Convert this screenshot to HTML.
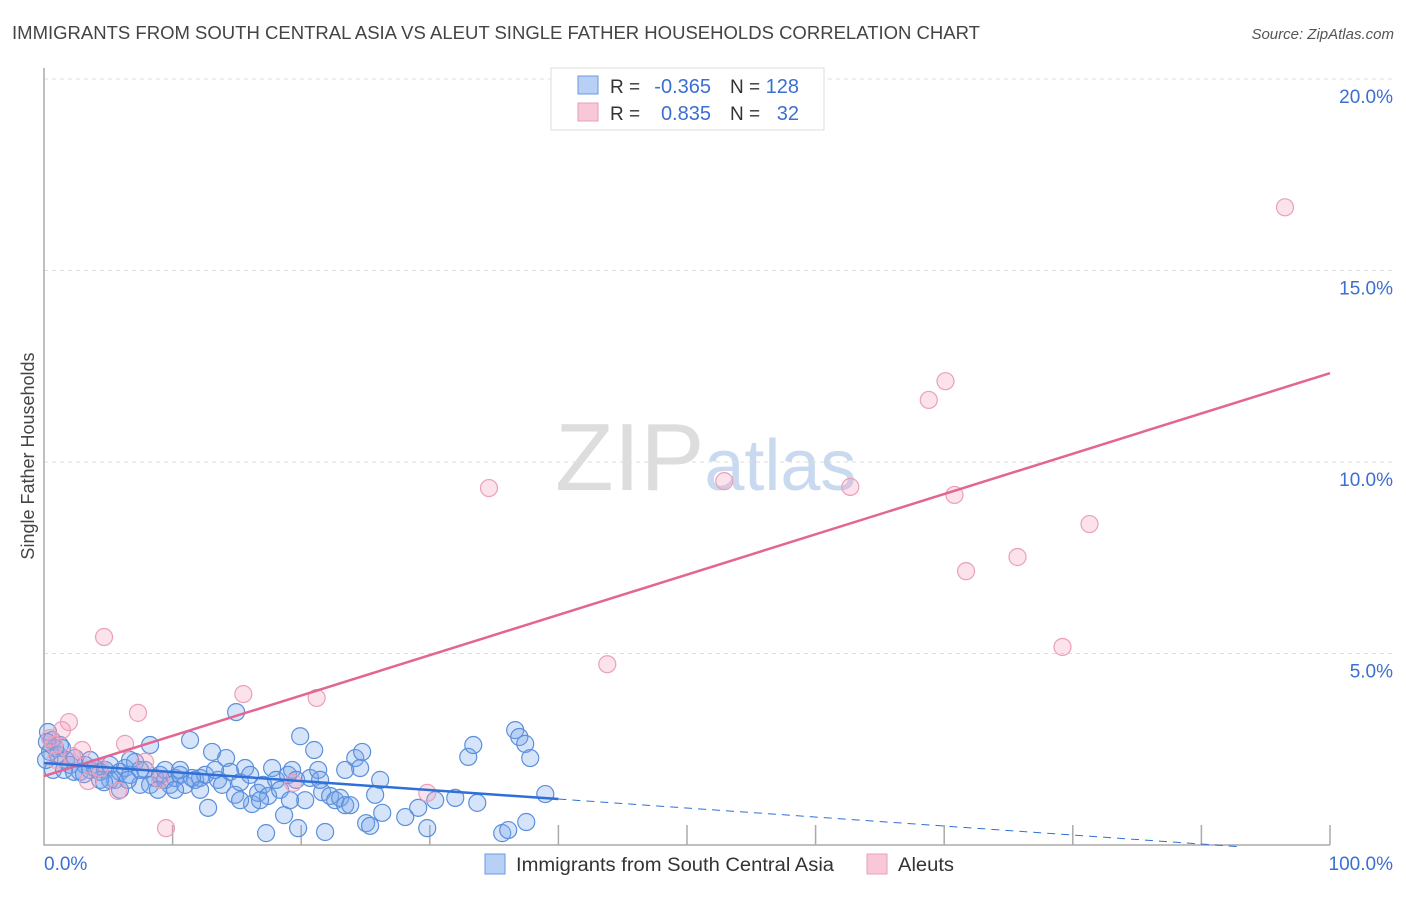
<!DOCTYPE html>
<html><head><meta charset="utf-8"><style>
body{margin:0;background:#fff;font-family:"Liberation Sans",sans-serif}
svg text{font-family:"Liberation Sans",sans-serif}
</style></head><body>
<svg id="chart" width="1406" height="892" viewBox="0 0 1406 892" xmlns="http://www.w3.org/2000/svg">
<text x="12" y="39" font-size="18" fill="#444" textLength="968" lengthAdjust="spacingAndGlyphs">IMMIGRANTS FROM SOUTH CENTRAL ASIA VS ALEUT SINGLE FATHER HOUSEHOLDS CORRELATION CHART</text>
<text x="1394" y="39" font-size="15" fill="#555" text-anchor="end" font-style="italic">Source: ZipAtlas.com</text>
<text x="555" y="490" font-size="96" fill="#ddd" font-family="Liberation Serif"><tspan>ZIP</tspan><tspan fill="#c9daf0" font-family="Liberation Sans" font-size="72">atlas</tspan></text>
<g id="grid"></g>
<g id="axes"></g>
<g id="points"></g>
<g id="lines"></g>
<text transform="translate(34,456) rotate(-90)" font-size="18" fill="#444" text-anchor="middle">Single Father Households</text>
<g>
<rect x="551" y="68" width="273" height="62" fill="#fff" stroke="#ddd"/>
<rect x="578" y="76" width="20" height="18" fill="#b8d0f5" stroke="#6a9ae0"/>
<rect x="578" y="103" width="20" height="18" fill="#f9c8d7" stroke="#e8a0b8"/>
<text x="610" y="93" font-size="19" fill="#333">R =</text>
<text x="711" y="93" font-size="20" fill="#3b6fd1" text-anchor="end">-0.365</text>
<text x="730" y="93" font-size="19" fill="#333">N =</text>
<text x="799" y="93" font-size="20" fill="#3b6fd1" text-anchor="end">128</text>
<text x="610" y="120" font-size="19" fill="#333">R =</text>
<text x="711" y="120" font-size="20" fill="#3b6fd1" text-anchor="end">0.835</text>
<text x="730" y="120" font-size="19" fill="#333">N =</text>
<text x="799" y="120" font-size="20" fill="#3b6fd1" text-anchor="end">32</text>
</g>
<g>
<rect x="485" y="854" width="20" height="20" fill="#b8d0f5" stroke="#6a9ae0"/>
<text x="516" y="871" font-size="19" fill="#333" textLength="318" lengthAdjust="spacingAndGlyphs">Immigrants from South Central Asia</text>
<rect x="867" y="854" width="20" height="20" fill="#f9c8d7" stroke="#e8a0b8"/>
<text x="898" y="871" font-size="19" fill="#333" textLength="56" lengthAdjust="spacingAndGlyphs">Aleuts</text>
</g>
</svg>
<script>
const yTicks=[5,10,15,20];
const yTickLabels=["5.0%","10.0%","15.0%","20.0%"];
const xTicks=[10,20,30,40,50,60,70,80,90,100];
const blueX=[0.31,0.62,0.86,0.47,1.09,1.40,1.71,2.02,2.41,2.80,3.19,3.58,3.97,4.36,4.75,5.13,5.52,5.91,6.30,6.69,7.08,7.47,7.86,8.25,8.64,9.02,9.41,9.80,10.19,10.58,10.97,11.36,11.75,12.14,12.53,12.76,13.07,13.54,13.85,14.16,14.47,14.86,15.25,15.64,16.03,16.18,16.65,17.04,17.27,17.43,17.74,18.05,18.36,18.67,18.98,19.29,19.61,19.76,19.92,20.31,20.69,21.01,21.32,21.63,21.86,22.25,22.64,23.03,23.42,23.81,24.20,24.58,24.74,25.05,25.36,25.75,26.14,26.30,28.09,29.10,29.80,30.42,31.98,32.99,33.38,33.69,35.63,36.10,36.64,36.96,37.42,37.50,37.81,38.98,14.94,11.51,8.25,6.69,1.24,0.23,0.70,5.13,5.91,9.41,10.19,12.14,13.30,15.25,16.80,19.13,21.47,23.42,3.58,4.36,7.47,10.58,0.16,1.56,2.33,3.11,4.67,6.53,8.86];
const blueY=[2.95,2.74,2.53,2.43,2.35,2.53,2.22,2.09,2.27,1.91,2.09,1.96,2.01,1.91,1.96,2.09,1.70,1.91,2.01,1.83,2.17,1.57,1.96,2.61,1.75,1.83,1.70,1.57,1.75,1.83,1.57,2.74,1.70,1.75,1.83,0.97,2.43,1.70,1.57,2.27,1.91,1.31,1.64,2.01,1.83,1.07,1.36,1.57,0.31,1.28,2.01,1.70,1.44,0.78,1.83,1.96,1.70,0.44,2.84,1.17,1.75,2.48,1.96,1.38,0.34,1.28,1.17,1.23,1.04,1.04,2.27,2.01,2.43,0.57,0.50,1.31,1.70,0.84,0.73,0.97,0.44,1.17,1.23,2.30,2.61,1.10,0.31,0.39,3.00,2.82,2.64,0.60,2.27,1.33,3.47,1.75,1.57,2.22,2.61,2.69,1.96,1.70,1.44,1.96,1.44,1.44,1.96,1.17,1.17,1.17,1.70,1.96,2.22,1.70,1.96,1.96,2.22,1.96,1.91,1.85,1.64,1.70,1.44];
const pinkX=[4.67,34.6,52.9,62.7,68.8,70.1,70.8,71.7,75.7,81.3,79.2,96.5,43.8,15.5,21.2,7.31,1.94,1.40,6.30,2.96,0.78,3.42,5.76,9.49,19.37,29.80,7.86,2.18,0.47,0.93,4.36,9.02];
const pinkY=[5.43,9.32,9.50,9.35,11.62,12.11,9.14,7.15,7.52,8.38,5.17,16.65,4.72,3.94,3.84,3.45,3.21,3.00,2.64,2.48,2.61,1.67,1.41,0.44,1.62,1.36,2.17,2.32,2.79,2.22,2.01,1.70];
const pinkFit=[1.8,12.32];
const blueFit=[2.14,-0.21];
const blueSolidEnd=40, blueDashEnd=93;

const NS="http://www.w3.org/2000/svg";
const X=v=>44+v*12.86, Y=v=>845-v*38.3;
function mk(t,a,p){const e=document.createElementNS(NS,t);for(const k in a)e.setAttribute(k,a[k]);p.appendChild(e);return e;}
const grid=document.getElementById('grid'),axes=document.getElementById('axes'),pts=document.getElementById('points'),lines=document.getElementById('lines');
yTicks.forEach((t,i)=>{
 const l=mk('line',{x1:44,x2:1394,y1:Y(t),y2:Y(t),stroke:'#ddd','stroke-dasharray':'4,4'},grid);
 
 
 const tx=mk('text',{x:1393,y:Y(t)+24,'font-size':19,fill:'#3b6fd1','text-anchor':'end'},axes);
 tx.textContent=yTickLabels[i];
 
 
});
const ax=mk('path',{d:'M44 68 V845 H1330',fill:'none',stroke:'#aaa','stroke-width':1.5},axes);


xTicks.forEach(t=>{const l=mk('line',{x1:X(t),x2:X(t),y1:845,y2:825,stroke:'#aaa','stroke-width':1.5},axes);
 
 });
const x0=mk('text',{x:44,y:870,'font-size':19,fill:'#3b6fd1'},axes);x0.textContent='0.0%';


const x1=mk('text',{x:1393,y:870,'font-size':19,fill:'#3b6fd1','text-anchor':'end'},axes);x1.textContent='100.0%';


blueX.forEach((v,i)=>{const c=mk('circle',{cx:X(v),cy:Y(blueY[i]),r:8.5,fill:'rgba(120,165,235,0.3)',stroke:'#5b8fdc','stroke-width':1.2},pts);
 
 });
pinkX.forEach((v,i)=>{const c=mk('circle',{cx:X(v),cy:Y(pinkY[i]),r:8.5,fill:'rgba(245,160,190,0.3)',stroke:'#eaa0ba','stroke-width':1.2},pts);
 
 });
const bf=x=>blueFit[0]+(blueFit[1]-blueFit[0])*x/100;
const pl=mk('line',{x1:X(0),y1:Y(pinkFit[0]),x2:X(100),y2:Y(pinkFit[1]),stroke:'#e36593','stroke-width':2.5},lines);


const bl=mk('line',{x1:X(0),y1:Y(bf(0)),x2:X(blueSolidEnd),y2:Y(bf(blueSolidEnd)),stroke:'#2f6fd8','stroke-width':2.5},lines);


const bd=mk('line',{x1:X(blueSolidEnd),y1:Y(bf(blueSolidEnd)),x2:X(blueDashEnd),y2:Y(bf(blueDashEnd)),stroke:'#2f6fd8','stroke-width':1,'stroke-dasharray':'8,6'},lines);


</script>
</body></html>
